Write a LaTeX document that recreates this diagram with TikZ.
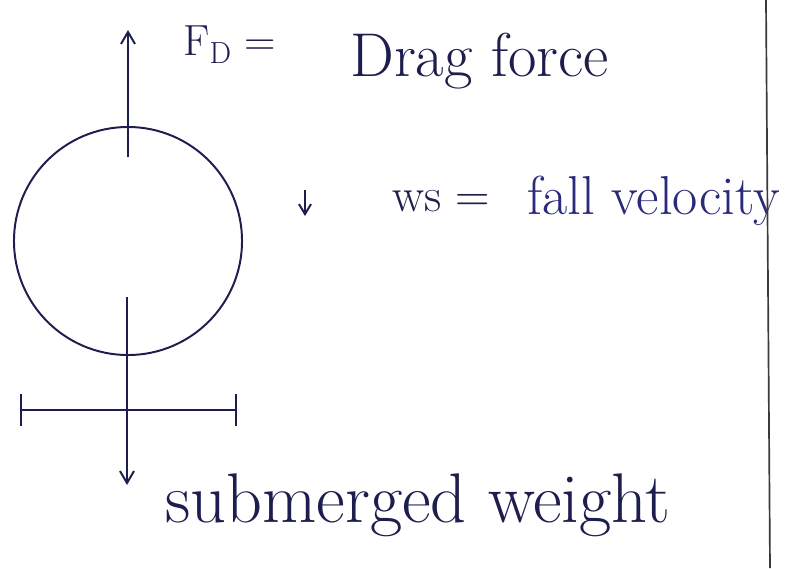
\documentclass[tikz,border=0pt]{standalone}
\usepackage{tikz}
\usetikzlibrary{arrows.meta, positioning}
\usepackage{xcolor}
\definecolor{inkblue}{HTML}{1E1E4E}
\definecolor{penblue}{HTML}{2A2A7A}
\definecolor{margingray}{HTML}{3A3A3A}

\begin{document}
\begin{tikzpicture}[
    x=0.025cm, y=-0.025cm,
    labeltext/.style={inner sep=0pt, text=inkblue, font=\fontsize{#1}{#1}\selectfont},
    ink/.style={line width=1.4pt, draw=inkblue},
    arr/.style={-{Straight Barb[length=3mm, width=3.5mm]}, ink},
]
\useasboundingbox[fill=white] (0,0) rectangle (791,568);

% particle
\node[ink, circle, minimum size=5.7cm, inner sep=0pt] (grain) at (128,241) {};

% drag force
\coordinate (dragtail) at (128,157);
\coordinate (draghead) at (128,30);
\draw[arr] (dragtail) -- (draghead);
\node[labeltext=31, anchor=base west] (fd) at (183,55) {F\textsubscript{D} =};
\node[labeltext=44, anchor=base west] (drag) at (350,76) {Drag force};

% fall velocity
\coordinate (wstail) at (305,190);
\coordinate (wshead) at (305,216);
\draw[-{Straight Barb[length=2.5mm, width=3mm]}, ink] (wstail) -- (wshead);
\node[labeltext=34, anchor=base west] (ws) at (392,211) {ws =};
\node[labeltext=39, anchor=base west, text=penblue] (fall) at (527,214) {fall velocity};

% submerged weight
\coordinate (wtail) at (127,297);
\coordinate (whead) at (127,485);
\draw[arr] (wtail) -- (whead);
\coordinate (barl) at (20,410);
\coordinate (barr) at (237,410);
\draw[ink, {Bar[width=8mm]}-{Bar[width=8mm]}] (barl) -- (barr);
\node[labeltext=50, anchor=base west] (weight) at (165,522) {submerged weight};

% page margin
\coordinate (margintop) at (766,0);
\coordinate (marginbot) at (770,568);
\draw[line width=1.2pt, draw=margingray] (margintop) -- (marginbot);
\end{tikzpicture}
\end{document}
